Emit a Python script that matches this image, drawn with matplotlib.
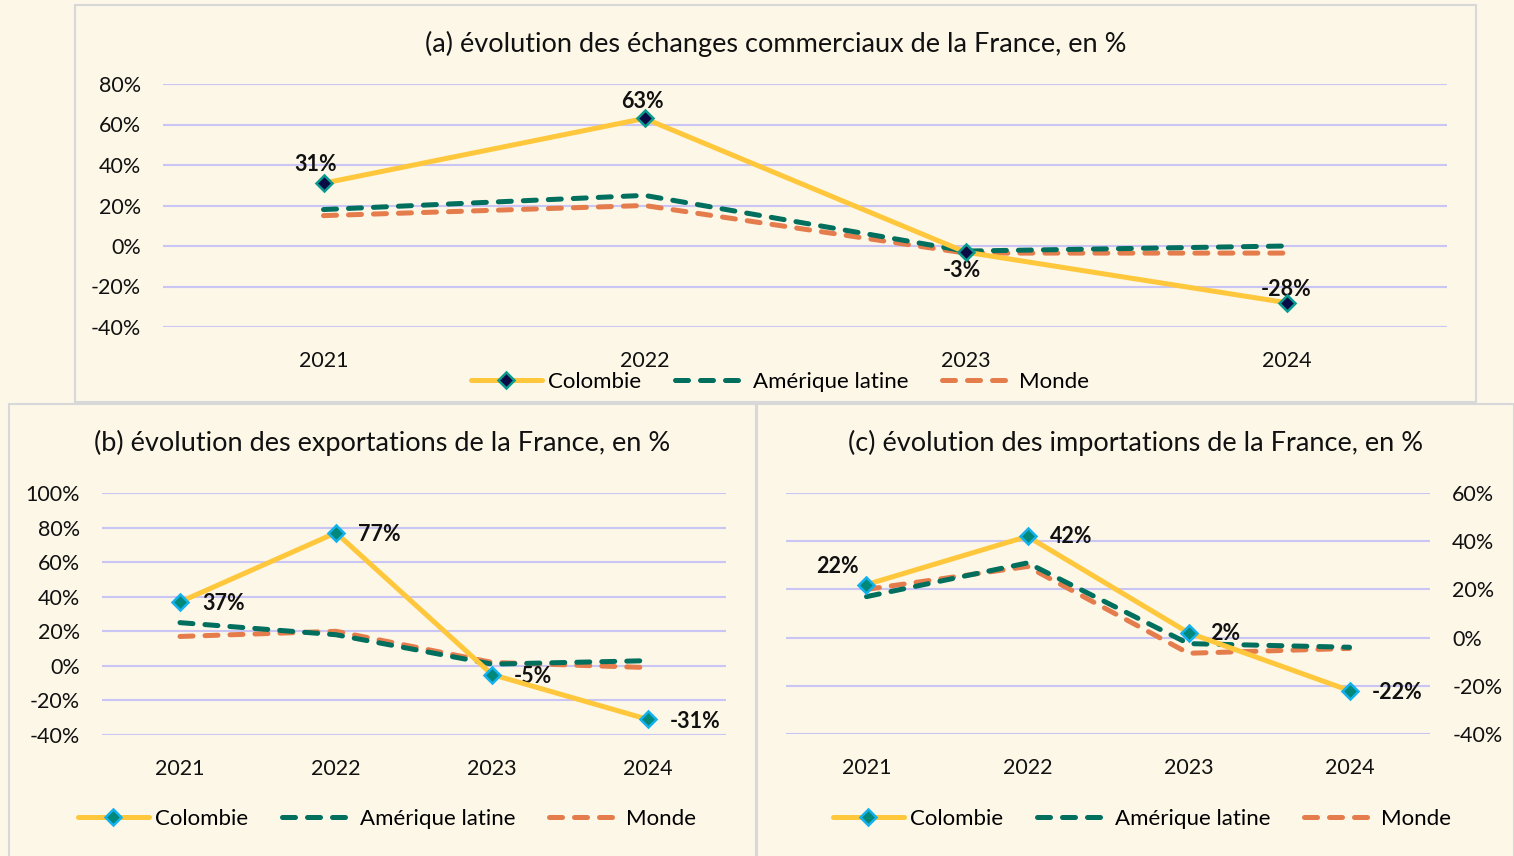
import matplotlib
matplotlib.use("Agg")
import matplotlib.pyplot as plt
from matplotlib.patches import Rectangle
from matplotlib.ticker import PercentFormatter

plt.rcParams['font.family'] = ['Lato', 'DejaVu Sans']
plt.rcParams['axes.unicode_minus'] = False

# données
annees = ['2021', '2022', '2023', '2024']
series = ['Colombie', 'Amérique latine', 'Monde']

echanges_colombie = [31, 63, -3, -28]
echanges_amlat = [18, 25, -2.5, 0]
echanges_monde = [15, 20, -3.5, -3.5]

export_colombie = [37, 77, -5, -31]
export_amlat = [25, 18, 1, 3]
export_monde = [17, 20, 2, -1]

import_colombie = [22, 42, 2, -22]
import_amlat = [17, 31, -2.5, -4]
import_monde = [20, 29.5, -6.5, -4.5]

titres = ['(a) évolution des échanges commerciaux de la France, en %',
          '(b) évolution des exportations de la France, en %',
          '(c) évolution des importations de la France, en %']

W, H = 1514, 856
BG = '#FDF7E8'
JAUNE = '#FFC73B'
VERT = '#006F5E'
ORANGE = '#E47C4C'
GRILLE = '#C9C6F5'

fig = plt.figure(figsize=(W / 100, H / 100), dpi=100)
fig.patch.set_facecolor(BG)


def px_axes(x0, y0, x1, y1):
    # coordonnées en pixels (origine en haut à gauche)
    return fig.add_axes([x0 / W, 1 - y1 / H, (x1 - x0) / W, (y1 - y0) / H])


def cadre(x0, y0, x1, y1, titre, ty):
    fig.patches.append(Rectangle((x0 / W, 1 - y1 / H), (x1 - x0) / W, (y1 - y0) / H,
                                 transform=fig.transFigure, facecolor=BG,
                                 edgecolor='#D8D8D8', linewidth=1.5, zorder=-5))
    fig.text((x0 + min(x1, W)) / 2 / W, 1 - ty / H, titre, ha='center', va='center',
             fontsize=19.5, color='#111111')


cadre(75, 5, 1476, 402, titres[0], 44)
cadre(9, 404, 756, 862, titres[1], 443)
cadre(757, 404, 1514, 862, titres[2], 443)

TIRETS = (0, (2.6, 2.4))


def panneau(ax, col, aml, mon, ymin, ymax, mfc, mec, labpos, droite=False):
    x = range(len(annees))
    ax.set_facecolor('none')
    ax.plot(x, col, color=JAUNE, lw=3.6, marker='D', ms=8, mfc=mfc, mec=mec, mew=1.8,
            solid_capstyle='round', label=series[0], zorder=4)
    ax.plot(x, aml, color=VERT, lw=3.6, ls=TIRETS, dash_capstyle='round',
            label=series[1], zorder=3)
    ax.plot(x, mon, color=ORANGE, lw=3.6, ls=TIRETS, dash_capstyle='round',
            label=series[2], zorder=2)
    ax.set_xlim(-0.5, len(annees) - 0.5)
    ax.set_ylim(ymin, ymax)
    ax.set_yticks(range(ymin, ymax + 1, 20))
    ax.yaxis.set_major_formatter(PercentFormatter(decimals=0))
    ax.set_xticks(list(x))
    ax.set_xticklabels(annees)
    ax.grid(axis='y', color=GRILLE, lw=1.5)
    ax.set_axisbelow(True)
    for s in ax.spines.values():
        s.set_visible(False)
    ax.tick_params(length=0, labelsize=15.5, colors='#111111')
    ax.tick_params(axis='x', pad=17)
    if droite:
        ax.yaxis.tick_right()
    ax.tick_params(axis='y', pad=16)
    for i, v in enumerate(col):
        dx, dy, ha, va = labpos[i]
        ax.annotate(f'{v:.0f}%', (i, v), xytext=(dx, dy), textcoords='offset pixels',
                    ha=ha, va=va, fontsize=15.5, fontweight='bold', color='#111111')


def legende(ax, cx, cy):
    ax.legend(loc='center', bbox_to_anchor=(cx / W, 1 - cy / H),
              bbox_transform=fig.transFigure, ncol=3, frameon=False, fontsize=16,
              handlelength=3.2, columnspacing=1.5, handletextpad=0.3)


ax_a = px_axes(163, 84, 1447, 327)
panneau(ax_a, echanges_colombie, echanges_amlat, echanges_monde, -40, 80,
        '#0B0B45', '#0A9A8E',
        [(-8, 8, 'center', 'bottom'), (-2, 6, 'center', 'bottom'),
         (-4, -8, 'center', 'top'), (0, 3, 'center', 'bottom')])
legende(ax_a, 780, 382)

ax_b = px_axes(102, 493, 726, 735)
panneau(ax_b, export_colombie, export_amlat, export_monde, -40, 100,
        '#00887A', '#14B1EE',
        [(22, -2, 'left', 'center'), (22, -2, 'left', 'center'),
         (22, -2, 'left', 'center'), (22, -2, 'left', 'center')])
legende(ax_b, 387, 819)

ax_c = px_axes(786, 493, 1430, 734)
panneau(ax_c, import_colombie, import_amlat, import_monde, -40, 60,
        '#00887A', '#14B1EE',
        [(-8, 8, 'right', 'bottom'), (22, 0, 'left', 'center'),
         (22, -1, 'left', 'center'), (22, -2, 'left', 'center')],
        droite=True)
legende(ax_c, 1142, 819)

fig.savefig('out.png', dpi=100, facecolor=BG)
